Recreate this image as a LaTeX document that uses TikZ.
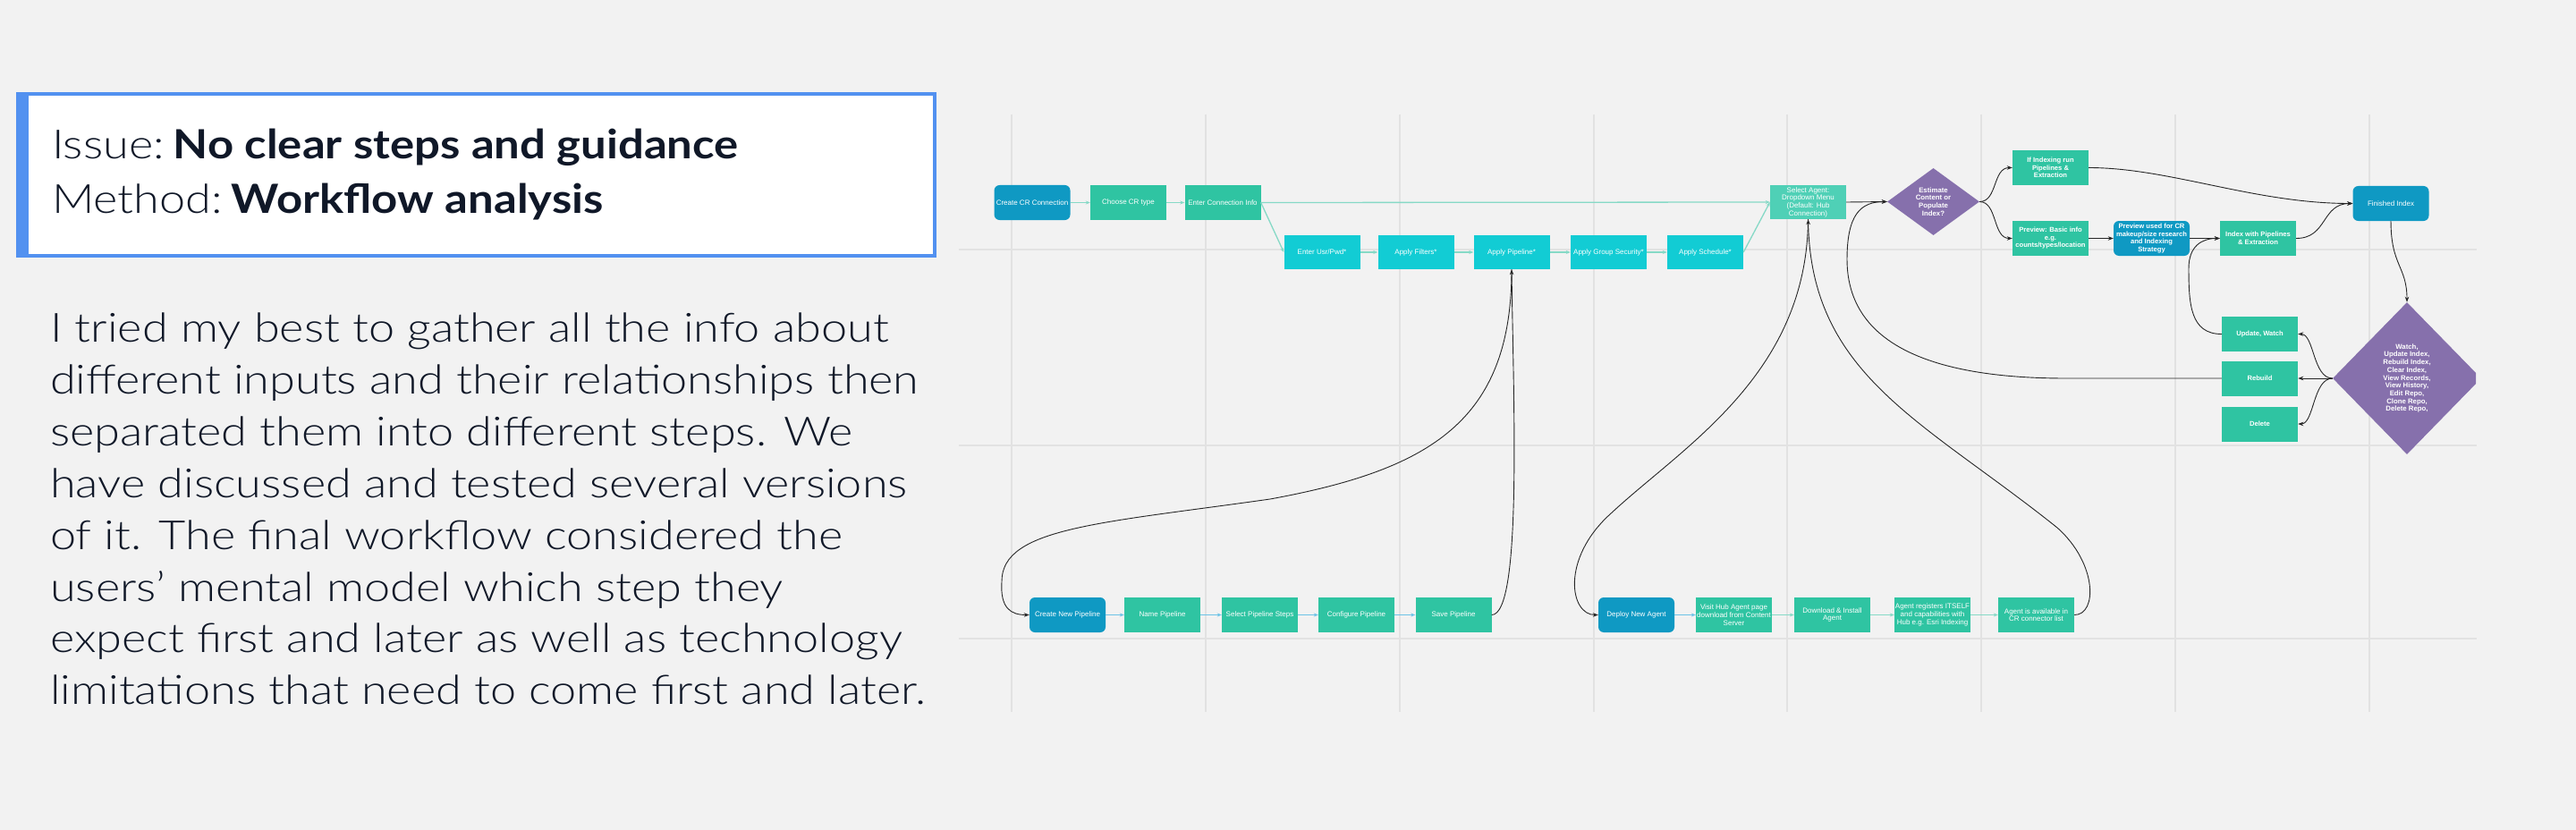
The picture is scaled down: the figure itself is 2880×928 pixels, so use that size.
\documentclass[tikz,border=0pt]{standalone}
\usepackage{fontspec}
\setmainfont{Liberation Sans}
\newfontfamily\lightf{Lato Light}[FakeStretch=1.16]
\newfontfamily\boldf{Lato Bold}[FakeStretch=1.13]
\usetikzlibrary{arrows.meta,shapes.geometric}
\definecolor{bgc}{HTML}{F2F2F2}
\definecolor{gridc}{HTML}{E2E2E2}
\definecolor{dblue}{HTML}{0F99C3}
\definecolor{tealg}{HTML}{2FC4A2}
\definecolor{cyanb}{HTML}{12CCD4}
\definecolor{selc}{HTML}{4FD0B6}
\definecolor{purp}{HTML}{8670AC}
\definecolor{lteal}{HTML}{86D9C6}
\definecolor{lblue}{HTML}{6CC3E6}
\definecolor{framec}{HTML}{5291F0}
\definecolor{ink}{HTML}{101828}
\tikzset{
 box/.style={minimum width=85pt, minimum height=39pt, inner sep=0pt, text=white, align=center, font=\fontsize{8}{8.7}\selectfont},
 gbox/.style={box, fill=tealg},
 gbold/.style={gbox, font=\fontsize{7.6}{8.5}\selectfont\bfseries},
 cbox/.style={box, fill=cyanb},
 rbox/.style={box, fill=dblue, rounded corners=6pt},
 dia/.style={diamond, fill=purp, inner sep=0pt},
 dtext/.style={text=white, align=center, font=\fontsize{7.8}{8.7}\selectfont\bfseries, inner sep=0pt},
 lt/.style={draw=lteal, line width=1.3pt, -{Stealth[length=5pt,width=4pt]}},
 lb/.style={draw=lblue, line width=1.3pt, -{Stealth[length=5pt,width=4pt]}},
 bk/.style={draw=black!85, line width=0.9pt, -{Stealth[length=6pt,width=4.5pt]}},
 gl/.style={draw=gridc, line width=1.5pt},
 para/.style={anchor=base west, inner sep=0pt, text=ink, font=\lightf\fontsize{45}{50}\selectfont},
 ttl/.style={anchor=base west, inner sep=0pt, text=ink, font=\fontsize{45}{50}\selectfont},
}
\begin{document}
\begin{tikzpicture}[x=1pt,y=-1pt]
\useasboundingbox (0,0) rectangle (2880,928);
\fill[bgc] (0,0) rectangle (2880,928);
% grid
\foreach \gx in {1131,1348,1565,1782,1998,2215,2432,2649}{\draw[gl] (\gx,128) -- (\gx,796);}
\foreach \gy in {279,498,714}{\draw[gl] (1072,\gy) -- (2769,\gy);}
% title box
\fill[white] (18,103) rectangle (1047,288);
\draw[framec, line width=4pt] (20,105) rectangle (1045,286);
\fill[framec] (18,103) rectangle (32,288);
\node[ttl] (t1) at (58,178) {{\lightf Issue:}\hspace{10pt}{\boldf No clear steps and guidance}};
\node[ttl] (t2) at (58,239) {{\lightf Method:}\hspace{10pt}{\boldf Workflow analysis}};
% paragraph
\node[para] (p1) at (56,382) {I tried my best to gather all the info about};
\node[para] (p2) at (56,440) {different inputs and their relationships then};
\node[para] (p3) at (56,498) {separated them into different steps. We};
\node[para] (p4) at (56,556) {have discussed and tested several versions};
\node[para] (p5) at (56,614) {of it. The final workflow considered the};
\node[para] (p6) at (56,672) {users’ mental model which step they};
\node[para] (p7) at (56,729.5) {expect first and later as well as technology};
\node[para] (p8) at (56,787) {limitations that need to come first and later.};
% top row
\node[rbox] (ccr) at (1154,226.5) {Create CR Connection};
\node[gbox] (cct) at (1261.5,226.5) {Choose CR type};
\node[gbox] (eci) at (1367,226.5) {Enter Connection Info};
\node[box, fill=selc, minimum height=38pt] (sa) at (2021.5,226) {Select Agent:\\Dropdown Menu\\(Default: Hub\\Connection)};
% second row
\node[cbox, minimum height=38pt] (eup) at (1478,282) {Enter Usr/Pwd*};
\node[cbox, minimum height=38pt] (af) at (1583,282) {Apply Filters*};
\node[cbox, minimum height=38pt] (ap) at (1690,282) {Apply Pipeline*};
\node[cbox, minimum height=38pt] (ags) at (1798.5,282) {Apply Group Security*};
\node[cbox, minimum height=38pt] (as) at (1906.5,282) {Apply Schedule*};
% decision
\node[dia, minimum width=103pt, minimum height=75pt] (est) at (2161.5,225.5) {};
\node[dtext] (estt) at (est.center) {Estimate\\Content or\\Populate\\Index?};
\node[gbold] (ifidx) at (2292.5,187.5) {If Indexing run\\Pipelines \&\\Extraction};
\node[gbold] (pbi) at (2292.5,266.5) {Preview: Basic info\\e.g.\\counts/types/location};
\node[rbox, font=\fontsize{7.6}{8.5}\selectfont\bfseries] (puc) at (2405.5,266.5) {Preview used for CR\\makeup/size research\\and Indexing\\Strategy};
\node[gbold] (iwp) at (2524.5,266.5) {Index with Pipelines\\\& Extraction};
\node[rbox] (fin) at (2673,227.5) {Finished Index};
\node[gbold] (upd) at (2526.5,373.5) {Update, Watch};
\node[gbold] (reb) at (2526.5,423) {Rebuild};
\node[gbold] (del) at (2526.5,474) {Delete};
\begin{scope}
\clip (0,0) rectangle (2768,928);
\node[dia, minimum width=166pt, minimum height=170pt] (bigd) at (2691,423) {};
\end{scope}
\node[dtext] (bigdt) at (2691,423) {Watch,\\Update Index,\\Rebuild Index,\\Clear Index,\\View Records,\\View History,\\Edit Repo,\\Clone Repo,\\Delete Repo,};
% bottom rows
\node[rbox] (cnp) at (1193.5,687.5) {Create New Pipeline};
\node[gbox] (np) at (1299.5,687.5) {Name Pipeline};
\node[gbox] (sps) at (1408.5,687.5) {Select Pipeline Steps};
\node[gbox] (cp) at (1516.5,687.5) {Configure Pipeline};
\node[gbox] (sp) at (1625,687.5) {Save Pipeline};
\node[rbox] (dna) at (1829.5,687.5) {Deploy New Agent};
\node[gbox] (vha) at (1938.5,687.5) {Visit Hub Agent page\\download from Content\\Server};
\node[gbox] (dia) at (2048.5,687.5) {Download \& Install\\Agent};
\node[gbox] (ar) at (2160.5,687.5) {Agent registers ITSELF\\and capabilities with\\Hub e.g. Esri Indexing};
\node[gbox] (aav) at (2276.5,687.5) {Agent is available in\\CR connector list};
% light connectors
\draw[lt] (ccr) -- (cct);
\draw[lt] (cct) -- (eci);
\draw[lt] (eci.east) -- (sa.west);
\draw[lt] (eci.east) -- (eup.west);
\draw[lt] (eup) -- (af);
\draw[lt] (af) -- (ap);
\draw[lt] (ap) -- (ags);
\draw[lt] (ags) -- (as);
\draw[lt] (as.east) -- (sa.west);
\draw[lb] (cnp) -- (np);
\draw[lb] (np) -- (sps);
\draw[lb] (sps) -- (cp);
\draw[lb] (cp) -- (sp);
\draw[lb] (dna) -- (vha);
\draw[lt] (vha) -- (dia);
\draw[lt] (dia) -- (ar);
\draw[lt] (ar) -- (aav);
% black connectors
\draw[bk] (sa.east) -- (est.west);
\draw[bk] (est.east) .. controls +(20,0) and +(-22,0) .. (ifidx.west);
\draw[bk] (est.east) .. controls +(20,0) and +(-22,0) .. (pbi.west);
\draw[bk] (pbi) -- (puc);
\draw[bk] (puc) -- (iwp);
\draw[bk] (iwp.east) .. controls +(35,0) and +(-35,0) .. (fin.west);
\draw[bk] (ifidx.east) .. controls +(90,0) and +(-110,0) .. (fin.west);
\draw[bk] (fin.south) .. controls +(0,50) and +(0,-40) .. (bigd.north);
\draw[bk] (bigd.west) .. controls +(-22,0) and +(18,0) .. (upd.east);
\draw[bk] (bigd.west) -- (reb.east);
\draw[bk] (bigd.west) .. controls +(-22,0) and +(18,0) .. (del.east);
\draw[bk] (upd.west) .. controls +(-35,0) and +(0,40) .. (2447,300) .. controls +(0,-25) and +(-20,0) .. (iwp.west);
\draw[bk] (reb.west) -- (2310,423) .. controls (2150,423) and (2065,380) .. (2065,290) .. controls (2065,240) and (2080,225.5) .. (est.west);
\draw[bk] (sp.east) .. controls (1702,687) and (1692,450) .. (ap.south);
\draw[bk] (ap.south) .. controls (1690,470) and (1600,525) .. (1420,558) .. controls (1230,585) and (1120,590) .. (1120,650) .. controls (1118,680) and (1130,687.5) .. (cnp.west);
\draw[bk] (sa.south) .. controls (2020,420) and (1880,500) .. (1800,575) .. controls (1745,625) and (1755,687.5) .. (dna.west);
\draw[bk] (aav.east) .. controls (2345,687.5) and (2345,630) .. (2300,590) .. controls (2150,470) and (2025,420) .. (sa.south);
\end{tikzpicture}
\end{document}
